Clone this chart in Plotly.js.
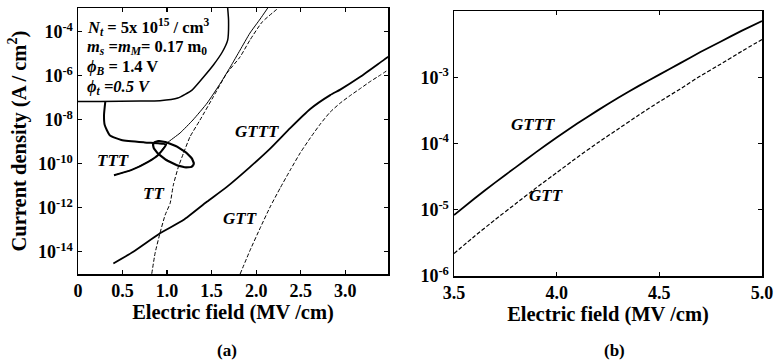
<!DOCTYPE html>
<html>
<head>
<meta charset="utf-8">
<script src="https://cdn.plot.ly/plotly-3.0.1.min.js"></script>
<style>html,body{margin:0;padding:0;background:#fff;}#chart{width:777px;height:362px;}</style>
</head>
<body>
<div id="chart"></div>
<script>
// ---- Panel (a) data: electric field (MV/cm) vs log10 current density ----
const envX   = [0, 0.25, 0.70, 0.92, 1.12, 1.28, 1.40, 1.52, 1.62, 1.68, 1.69, 1.68];
const envLog = [-7.17, -7.17, -7.15, -7.13, -7.01, -6.65, -6.10, -5.51, -4.92, -4.38, -3.47, -2.92];

const tttThinX   = [0.404, 0.596, 0.787, 0.90, 1.00, 1.146, 1.29, 1.45, 1.60, 1.71, 1.82, 1.93, 2.045, 2.13];
const tttThinLog = [-10.52, -10.29, -9.91, -9.60, -9.06, -8.60, -8.01, -7.24, -6.33, -5.60, -4.83, -4.06, -3.42, -2.92];

const tttX   = [0.404, 0.596, 0.787, 0.90, 0.99, 0.899, 0.749, 0.487, 0.356, 0.30, 0.292, 0.307];
const tttLog = [-10.52, -10.29, -9.91, -9.60, -9.12, -9.07, -9.03, -8.92, -8.70, -8.24, -7.79, -7.15];

const ttX   = [0.828, 0.865, 0.92, 0.978, 1.034, 1.07, 1.127, 1.183, 1.258, 1.37, 1.52, 1.67, 1.82, 1.93, 2.067, 2.25];
const ttLog = [-15.0, -14.07, -13.16, -12.33, -11.80, -10.97, -10.14, -9.53, -8.77, -8.01, -6.95, -5.89, -5.14, -4.38, -3.56, -2.92];

const gtttX   = [0.397, 0.621, 0.921, 1.183, 1.446, 1.671, 1.933, 2.157, 2.382, 2.607, 2.831, 2.944, 3.169, 3.43, 3.483];
const gtttLog = [-14.53, -14.0, -13.16, -12.56, -11.73, -11.05, -10.14, -9.31, -8.38, -7.51, -6.88, -6.63, -6.05, -5.29, -5.14];

const gttX   = [1.82, 1.933, 2.045, 2.157, 2.27, 2.382, 2.494, 2.607, 2.719, 2.831, 2.944, 3.056, 3.169, 3.281, 3.393, 3.487];
const gttLog = [-15.01, -13.92, -12.92, -11.96, -11.10, -10.29, -9.51, -8.83, -8.20, -7.65, -7.24, -6.90, -6.58, -6.26, -5.97, -5.72];

// ---- Panel (b) data ----
const gtttBX   = [3.5, 3.6, 3.7, 3.8, 3.9, 4.0, 4.1, 4.2, 4.3, 4.4, 4.5, 4.6, 4.7, 4.8, 4.9, 5.0];
const gtttBLog = [-5.08, -4.83, -4.59, -4.36, -4.13, -3.91, -3.70, -3.50, -3.31, -3.13, -2.96, -2.79, -2.62, -2.46, -2.30, -2.15];

const gttBX   = [3.5, 3.6, 3.7, 3.8, 3.9, 4.0, 4.1, 4.2, 4.3, 4.4, 4.5, 4.6, 4.7, 4.8, 4.9, 5.0];
const gttBLog = [-5.66, -5.40, -5.15, -4.91, -4.67, -4.44, -4.21, -3.99, -3.78, -3.57, -3.37, -3.18, -2.98, -2.80, -2.61, -2.43];

// tick labels
const yTickA = [-14, -12, -10, -8, -6, -4];
const yTickB = [-6, -5, -4, -3, -2];
const xTickA = [0, 0.5, 1.0, 1.5, 2.0, 2.5, 3.0];
const xTickAText = ['0', '0.5', '1.0', '1.5', '2.0', '2.5', '3.0'];
const xTickB = [3.5, 4.0, 4.5, 5.0];
const xTickBText = ['3.5', '4.0', '4.5', '5.0'];

// ellipse marker (centre in data units, radii in px, tilt in degrees)
const ellCenter = [1.071, -9.57];
const ellRadiiPx = [22.7, 8.5];
const ellTilt = 28.5;

const pow = a => a.map(v => Math.pow(10, v));
const supLabel = v => '10<sup>' + v + '</sup>';

const W = 777, H = 362;
const axA = {x0: 78, x1: 388, y0: 8, y1: 274, xr: [0, 3.48], yr: [-15.01, -2.92]};
const axB = {x0: 454, x1: 762, y0: 11, y1: 276, xr: [3.5, 5.0], yr: [-6, -2]};

// ellipse points
const pxPerX = (axA.x1 - axA.x0) / (axA.xr[1] - axA.xr[0]);
const pxPerDec = (axA.y1 - axA.y0) / (axA.yr[1] - axA.yr[0]);
const ellX = [], ellY = [];
const th = ellTilt * Math.PI / 180;
for (let i = 0; i <= 72; i++) {
  const t = i / 72 * 2 * Math.PI;
  const dxp = ellRadiiPx[0] * Math.cos(t) * Math.cos(th) - ellRadiiPx[1] * Math.sin(t) * Math.sin(th);
  const dyp = ellRadiiPx[0] * Math.cos(t) * Math.sin(th) + ellRadiiPx[1] * Math.sin(t) * Math.cos(th);
  ellX.push(ellCenter[0] + dxp / pxPerX);
  ellY.push(Math.pow(10, ellCenter[1] - dyp / pxPerDec));
}

const serif = 'Liberation Serif';
const line = (x, y, w, dash, xa, ya) => ({
  x: x, y: y, type: 'scatter', mode: 'lines', xaxis: xa, yaxis: ya,
  line: {color: '#000', width: w, dash: dash || 'solid', shape: 'spline', smoothing: 0.5},
  hoverinfo: 'skip', showlegend: false
});

const traces = [
  line(envX, pow(envLog), 1.5, null, 'x', 'y'),
  line(tttThinX, pow(tttThinLog), 1.0, null, 'x', 'y'),
  line(tttX, pow(tttLog), 2.0, null, 'x', 'y'),
  line(ttX, pow(ttLog), 1.0, '4px,2px', 'x', 'y'),
  line(gtttX, pow(gtttLog), 1.8, null, 'x', 'y'),
  line(gttX, pow(gttLog), 1.0, '4px,2px', 'x', 'y'),
  Object.assign(line(ellX, ellY, 2.2, null, 'x', 'y'), {line: {color: '#000', width: 2.2}}),
  line(gtttBX, pow(gtttBLog), 1.8, null, 'x2', 'y2'),
  line(gttBX, pow(gttBLog), 1.2, '4px,2px', 'x2', 'y2')
];

const tickFont = {family: serif, size: 18, color: '#000', weight: 'bold'};
const titleFont = {family: serif, size: 20.5, color: '#000', weight: 'bold'};
const baseAx = {
  showline: true, linecolor: '#000', linewidth: 1.5, mirror: 'ticks',
  ticks: 'inside', ticklen: 4, tickwidth: 1.2, tickcolor: '#000',
  showgrid: false, zeroline: false, tickfont: tickFont, fixedrange: true
};

const layout = {
  width: W, height: H,
  margin: {l: 0, r: 0, t: 0, b: 0},
  paper_bgcolor: '#fff', plot_bgcolor: '#fff',
  showlegend: false,
  font: {family: serif, color: '#000'},
  xaxis: Object.assign({}, baseAx, {
    domain: [axA.x0 / W, axA.x1 / W], range: axA.xr, anchor: 'y',
    tickvals: xTickA, ticktext: xTickAText,
    title: {text: 'Electric field (MV /cm)', font: titleFont, standoff: 4}
  }),
  yaxis: Object.assign({}, baseAx, {
    domain: [1 - axA.y1 / H, 1 - axA.y0 / H], type: 'log', range: axA.yr, anchor: 'x',
    tickvals: pow(yTickA), ticktext: yTickA.map(supLabel),
    title: {text: 'Current density (A / cm<sup>2</sup>)', font: titleFont, standoff: 6}
  }),
  xaxis2: Object.assign({}, baseAx, {
    domain: [axB.x0 / W, axB.x1 / W], range: axB.xr, anchor: 'y2',
    tickvals: xTickB, ticktext: xTickBText,
    title: {text: 'Electric field (MV /cm)', font: titleFont, standoff: 4}
  }),
  yaxis2: Object.assign({}, baseAx, {
    domain: [1 - axB.y1 / H, 1 - axB.y0 / H], type: 'log', range: axB.yr, anchor: 'x2',
    tickvals: pow(yTickB), ticktext: yTickB.map(supLabel)
  }),
  annotations: []
};

const lbl = (text, px, py, size, italic, anchor) => ({
  text: italic ? '<i>' + text + '</i>' : text,
  xref: 'paper', yref: 'paper', x: px / W, y: 1 - py / H,
  xanchor: anchor || 'center', yanchor: 'middle', showarrow: false,
  font: {family: serif, size: size, color: '#000', weight: 'bold'}
});

layout.annotations.push(
  lbl('<i>N<sub>t</sub></i> = 5x 10<sup>15</sup> / cm<sup>3</sup>', 85, 27, 16.5, false, 'left'),
  lbl('<i>m<sub>s</sub></i> =<i>m<sub>M</sub></i>= 0.17 m<sub>0</sub>', 85, 47, 16.5, false, 'left'),
  lbl('<i>ϕ<sub>B</sub></i> = 1.4 V', 85, 67, 16.5, false, 'left'),
  lbl('<i>ϕ<sub>t</sub> =0.5 V</i>', 85, 87, 16.5, false, 'left'),
  lbl('TTT', 113, 160, 17, true),
  lbl('TT', 153, 193, 17, true),
  lbl('GTTT', 257, 132, 17, true),
  lbl('GTT', 240, 218, 17, true),
  lbl('GTTT', 533, 125, 17, true),
  lbl('GTT', 546, 195, 17, true),
  lbl('(a)', 227, 350, 17, false),
  lbl('(b)', 614, 350, 17, false)
);

Plotly.newPlot('chart', traces, layout, {staticPlot: true, displayModeBar: false});
</script>
</body>
</html>
